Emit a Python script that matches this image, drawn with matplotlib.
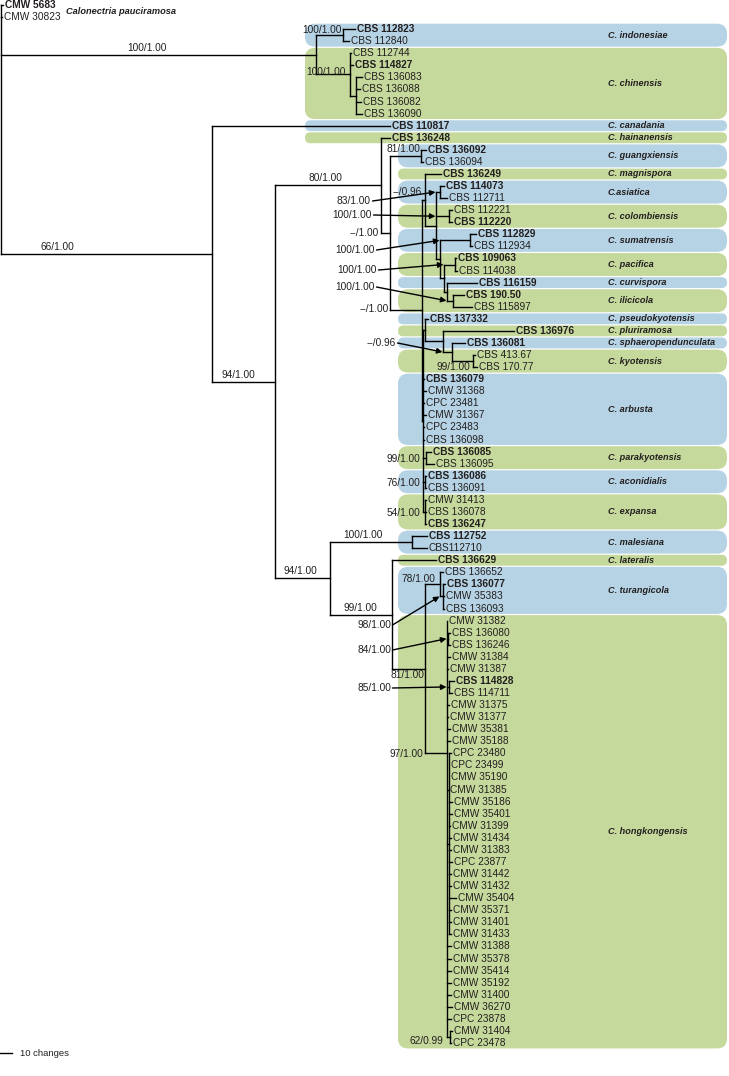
import matplotlib.pyplot as plt
from matplotlib.collections import LineCollection
from matplotlib.patches import FancyBboxPatch

plt.rcParams['font.family'] = ['Liberation Sans', 'DejaVu Sans']

# ---- data: leaves, top to bottom ----
leaf_labels = [
    'CMW 5683', 'CMW 30823', 'CBS 112823', 'CBS 112840', 'CBS 112744', 'CBS 114827',
    'CBS 136083', 'CBS 136088', 'CBS 136082', 'CBS 136090', 'CBS 110817', 'CBS 136248',
    'CBS 136092', 'CBS 136094', 'CBS 136249', 'CBS 114073', 'CBS 112711', 'CBS 112221',
    'CBS 112220', 'CBS 112829', 'CBS 112934', 'CBS 109063', 'CBS 114038', 'CBS 116159',
    'CBS 190.50', 'CBS 115897', 'CBS 137332', 'CBS 136976', 'CBS 136081', 'CBS 413.67',
    'CBS 170.77', 'CBS 136079', 'CMW 31368', 'CPC 23481', 'CMW 31367', 'CPC 23483',
    'CBS 136098', 'CBS 136085', 'CBS 136095', 'CBS 136086', 'CBS 136091', 'CMW 31413',
    'CBS 136078', 'CBS 136247', 'CBS 112752', 'CBS112710', 'CBS 136629', 'CBS 136652',
    'CBS 136077', 'CMW 35383', 'CBS 136093',
    'CMW 31382', 'CBS 136080', 'CBS 136246', 'CMW 31384', 'CMW 31387', 'CBS 114828',
    'CBS 114711', 'CMW 31375', 'CMW 31377', 'CMW 35381', 'CMW 35188', 'CPC 23480',
    'CPC 23499', 'CMW 35190', 'CMW 31385', 'CMW 35186', 'CMW 35401', 'CMW 31399',
    'CMW 31434', 'CMW 31383', 'CPC 23877', 'CMW 31442', 'CMW 31432', 'CMW 35404',
    'CMW 35371', 'CMW 31401', 'CMW 31433', 'CMW 31388', 'CMW 35378', 'CMW 35414',
    'CMW 35192', 'CMW 31400', 'CMW 36270', 'CPC 23878', 'CMW 31404', 'CPC 23478',
]
bold_leaves = [0, 2, 5, 10, 11, 12, 14, 15, 18, 19, 21, 23, 24, 26, 27, 28, 31,
               37, 39, 43, 44, 46, 48, 56]

# tip position of each leaf (pixels from the root side)
tip_x = [
    3.5, 2.5,
    355, 349,
    351, 353, 362, 360, 361, 362,
    390, 390,
    426, 423,
    441,
    444, 447,
    452, 452,
    476, 472,
    456, 457,
    477, 464, 472,
    428, 514, 465, 475, 477,
    424, 426, 424, 426, 424, 424,
    431, 434,
    426.5, 426.5,
    426, 426, 426,
    427, 427,
    436,
    443, 445, 444, 444,
    447.5, 450, 450, 450, 448, 454, 452, 449, 448, 450, 450,
    451, 449, 449, 448, 452, 452, 450, 451, 451, 452, 451, 451, 456, 451, 451, 451,
    451, 451, 451, 451, 451, 452, 451, 452, 451,
]

# internal nodes: position and children (int = leaf, str = node)
node_x = {
    'root': 1.5, 'A': 316, 'IND': 343, 'CHI': 350, 'CHI2': 356,
    'B': 212, 'C': 275, 'D': 381, 'F': 390, 'GUA': 421,
    'G': 422, 'M': 425, 'N1': 436, 'ASI': 440, 'COL': 449, 'N2': 440,
    'SUM': 470, 'N3': 444, 'PAC': 455, 'CI': 447, 'ILI': 453,
    'I': 423, 'J': 425, 'PSK': 443, 'SK': 452, 'KYO': 473,
    'PAR': 426, 'ACO': 425.5, 'EXP': 425,
    'E': 330, 'MAL': 412, 'K': 392, 'L': 425, 'TUR': 440, 'TUR2': 443,
    'HK': 447, 'HKa': 448, 'HKb': 449, 'HKd': 449, 'HKc': 450,
}
node_kids = {
    'root': [0, 1, 'A', 'B'],
    'A': ['IND', 'CHI'], 'IND': [2, 3], 'CHI': [4, 5, 'CHI2'], 'CHI2': [6, 7, 8, 9],
    'B': [10, 'C'], 'C': ['D', 'E'], 'D': [11, 'F'], 'F': ['GUA', 'G'], 'GUA': [12, 13],
    'G': ['M', 'I'], 'M': [14, 'N1'], 'N1': ['ASI', 'COL', 'N2'], 'ASI': [15, 16],
    'COL': [17, 18], 'N2': ['SUM', 'N3'], 'SUM': [19, 20], 'N3': ['PAC', 'CI'],
    'PAC': [21, 22], 'CI': [23, 'ILI'], 'ILI': [24, 25],
    'I': ['J', 31, 32, 33, 34, 35, 36, 'PAR', 'ACO', 'EXP'], 'J': [26, 'PSK'],
    'PSK': [27, 'SK'], 'SK': [28, 'KYO'], 'KYO': [29, 30],
    'PAR': [37, 38], 'ACO': [39, 40], 'EXP': [41, 42, 43],
    'E': ['MAL', 'K'], 'MAL': [44, 45], 'K': [46, 'L'], 'L': ['TUR', 'HK'],
    'TUR': [47, 'TUR2'], 'TUR2': [48, 49, 50],
    'HK': [51, 'HKa', 54, 55, 'HKb', 58, 59, 60, 61, 'HKd', 78, 79, 80, 81, 82, 83, 84, 'HKc'],
    'HKa': [52, 53], 'HKb': [56, 57], 'HKd': list(range(62, 78)), 'HKc': [85, 86],
}
node_row_override = {'HK': 62}  # node drawn at this row instead of mid-children

support_nodes = ['A', 'IND', 'CHI', 'B', 'D', 'C', 'GUA', 'F', 'M', 'ASI', 'COL', 'SUM',
                 'PAC', 'ILI', 'G', 'SK', 'KYO', 'PAR', 'ACO', 'EXP', 'E', 'MAL', 'K',
                 'TUR', 'TUR2', 'L', 'HKa', 'HKb', 'HK', 'HKc']
support_vals = ['100/1.00', '100/1.00', '100/1.00', '66/1.00', '80/1.00', '94/1.00',
                '81/1.00', '--/1.00', '--/0.96', '83/1.00', '100/1.00', '100/1.00',
                '100/1.00', '100/1.00', '--/1.00', '--/0.96', '99/1.00', '99/1.00',
                '76/1.00', '54/1.00', '94/1.00', '100/1.00', '99/1.00', '78/1.00',
                '98/1.00', '81/1.00', '84/1.00', '85/1.00', '97/1.00', '62/0.99']

clade_names = ['C. indonesiae', 'C. chinensis', 'C. canadania', 'C. hainanensis',
               'C. guangxiensis', 'C. magnispora', 'C.asiatica', 'C. colombiensis',
               'C. sumatrensis', 'C. pacifica', 'C. curvispora', 'C. ilicicola',
               'C. pseudokyotensis', 'C. pluriramosa', 'C. sphaeropendunculata',
               'C. kyotensis', 'C. arbusta', 'C. parakyotensis', 'C. aconidialis',
               'C. expansa', 'C. malesiana', 'C. lateralis', 'C. turangicola',
               'C. hongkongensis']
clade_first = [2, 4, 10, 11, 12, 14, 15, 17, 19, 21, 23, 24, 26, 27, 28, 29, 31, 37, 39, 41,
               44, 46, 47, 51]
clade_last = [3, 9, 10, 11, 13, 14, 16, 18, 20, 22, 23, 25, 26, 27, 28, 30, 36, 38, 40, 43,
              45, 46, 50, 86]

outgroup_name = 'Calonectria pauciramosa'
scale_changes = 10
px_per_change = 1.2

# ---- layout ----
row_y0, row_h = 5.0, 12.07
band_x0 = [305, 305, 305, 305] + [398] * 20
band_x1 = 727
band_colors = ['#b5d3e4', '#c6d99c']
txt_col = '#231f20'
fs_leaf = 7.3
fs_clade = 6.6

# how each support value is placed: kind and offsets
support_place = {
    'A': ('above', 147), 'B': ('above', 57), 'D': ('above', 325), 'C': ('above', 238),
    'E': ('above', 300), 'MAL': ('above', 363), 'K': ('above', 360), 'GUA': ('above', 403),
    'L': ('below', 407),
    'IND': ('left', -1, -5), 'CHI': ('left', -4, -2), 'F': ('left', -11, 0),
    'G': ('left', -33, -1), 'M': ('left', -3, -8), 'KYO': ('left', -3, 6),
    'PAR': ('left', -6, 1), 'ACO': ('left', -5, 1), 'EXP': ('left', -5, 1),
    'TUR': ('left', -5, -5), 'HK': ('left', -24, 1), 'HKc': ('left', -7, 4),
    'ASI': ('arrow', 371, 201), 'COL': ('arrow', 372, 215), 'SUM': ('arrow', 375, 250),
    'PAC': ('arrow', 377, 270), 'ILI': ('arrow', 375, 287), 'SK': ('arrow', 396, 343),
    'TUR2': ('arrow', 391, 625), 'HKa': ('arrow', 391, 650), 'HKb': ('arrow', 391, 688),
}


def Y(row):
    return row_y0 + row * row_h


def row_of(n):
    if isinstance(n, int):
        return n
    if n in node_row_override:
        return node_row_override[n]
    kids = node_kids[n]
    return (row_of(kids[0]) + row_of(kids[-1])) / 2


def x_of(n):
    return tip_x[n] if isinstance(n, int) else node_x[n]


parent = {}
for n, kids in node_kids.items():
    for k in kids:
        parent[k] = n

fig = plt.figure(figsize=(7.29, 10.76), dpi=100)
ax = fig.add_axes([0, 0, 1, 1])
ax.set_xlim(0, 729)
ax.set_ylim(1076, 0)
ax.axis('off')

# clade bands
for i, name in enumerate(clade_names):
    top = Y(clade_first[i] - 0.5) + 0.6
    bot = Y(clade_last[i] + 0.5) - 0.6
    h = bot - top
    r = min(10, h / 2)
    patch = FancyBboxPatch((band_x0[i], top), band_x1 - band_x0[i], h,
                           boxstyle='round,pad=0,rounding_size=%g' % r,
                           fc=band_colors[i % 2], ec='none', zorder=0)
    ax.add_patch(patch)
    ax.text(608, (top + bot) / 2, name, fontsize=fs_clade, fontweight='bold',
            fontstyle='italic', color=txt_col, va='center', ha='left')

# tree branches
segs = []
for n, kids in node_kids.items():
    nx = node_x[n]
    ys = [Y(row_of(k)) for k in kids] + [Y(row_of(n))]
    segs.append([(nx, min(ys)), (nx, max(ys))])
    for k in kids:
        yk = Y(row_of(k))
        segs.append([(nx, yk), (x_of(k), yk)])
ax.add_collection(LineCollection(segs, colors='black', linewidths=1.0,
                                 capstyle='projecting', zorder=2))

# leaf labels
for i, lab in enumerate(leaf_labels):
    ax.text(tip_x[i] + 2, Y(i), lab, fontsize=fs_leaf, color=txt_col, va='center',
            ha='left', fontweight='bold' if i in bold_leaves else 'normal', zorder=3)

ax.text(66, (Y(0) + Y(1)) / 2, outgroup_name, fontsize=6.7, fontweight='bold',
        fontstyle='italic', color=txt_col, va='center', ha='left')

# support values
for n, val in zip(support_nodes, support_vals):
    spec = support_place[n]
    ny = Y(row_of(n))
    if spec[0] == 'above':
        ax.text(spec[1], ny - 2, val, fontsize=fs_leaf, color=txt_col, ha='center', va='bottom')
    elif spec[0] == 'below':
        ax.text(spec[1], ny + 1.5, val, fontsize=fs_leaf, color=txt_col, ha='center', va='top')
    elif spec[0] == 'left':
        ax.text(node_x[n] + spec[1], ny + spec[2], val, fontsize=fs_leaf, color=txt_col,
                ha='right', va='center')
    else:
        tx, ty = spec[1], spec[2]
        ax.text(tx, ty, val, fontsize=fs_leaf, color=txt_col, ha='right', va='center')
        ax.annotate('', xy=(node_x[parent[n]] - 0.5, ny), xytext=(tx + 1.5, ty),
                    arrowprops=dict(arrowstyle='-|>', lw=1.0, color='black',
                                    mutation_scale=8, shrinkA=0, shrinkB=0), zorder=4)

# scale bar
ax.plot([0, scale_changes * px_per_change], [1053, 1053], color='black', lw=1.0)
ax.text(20, 1053, '%d changes' % scale_changes, fontsize=6.8, color=txt_col,
        va='center', ha='left')

fig.savefig('out.png', dpi=100)
